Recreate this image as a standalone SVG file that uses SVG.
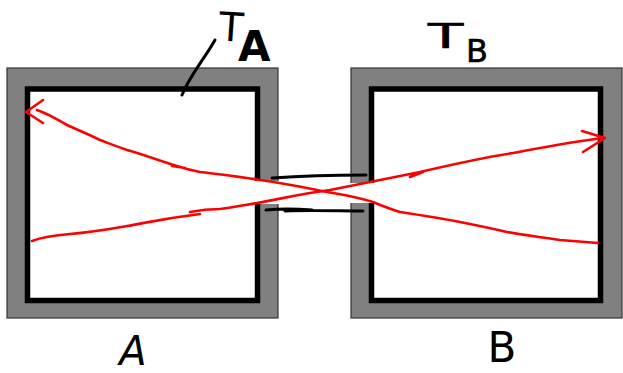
<svg xmlns="http://www.w3.org/2000/svg" width="623" height="373" viewBox="0 0 623 373">
<style>
.wall{fill:#808080;stroke:#333;stroke-width:1.2}
.inner{fill:#fff;stroke:#000;stroke-width:5.5}
.gap{fill:#fff;stroke:none}
.pen{fill:none;stroke:#000;stroke-width:3;stroke-linecap:round;stroke-linejoin:round}
.red{fill:none;stroke:#ff0000;stroke-width:2.6;stroke-linecap:round;stroke-linejoin:round}
.hand{font-family:"DejaVu Sans","Liberation Sans",sans-serif;fill:#000}
</style>
<rect width="623" height="373" fill="#fff"/>
<g id="boxA">
<rect class="wall" x="7" y="68" width="271" height="250"/>
<rect class="inner" x="27.5" y="89" width="230" height="211.5"/>
<rect class="gap" x="254" y="181" width="26" height="23"/>
</g>
<g id="boxB">
<rect class="wall" x="351" y="68" width="271" height="250"/>
<rect class="inner" x="371.5" y="89" width="229" height="211.5"/>
<rect class="gap" x="349" y="183" width="26" height="20"/>
</g>
<g id="labelTA">
<text class="hand" x="219" y="41" font-size="40" transform="rotate(4 230 25)">T</text>
<text class="hand" x="238" y="61" font-size="42" font-weight="bold">A</text>
<path class="pen" d="M215,40 C205,58 190,75 182,95"/>
</g>
<g id="labelTB">
<text class="hand" x="0" y="0" font-size="34" stroke="#000" stroke-width="0.6" transform="translate(428 48) scale(1.7 1)">T</text>
<text class="hand" x="466" y="62" font-size="32" stroke="#000" stroke-width="0.6">B</text>
</g>
<g id="labelA"><text class="hand" x="133" y="365" font-size="40" text-anchor="middle" font-style="italic">A</text></g>
<g id="labelB"><text class="hand" x="502" y="362" font-size="42" text-anchor="middle">B</text></g>
<g id="connectors">
<path class="pen" d="M272,178 C300,176 335,175 366,175"/>
<path class="pen" d="M266,210 C285,208 300,209 312,210 M285,211 C310,210 340,211 363,211"/>
<path class="red" d="M32,241 C45,236 57,235 70,234 C95,232 110,229 127,226 C145,223 160,219 200,214 M190,212 C200,210 210,209 220,209 C235,207 245,205 257,203 C285,198 300,194 330,190 C345,187 360,184 370,182 C390,178 405,175 420,172 C450,165 480,158 513,153 C545,147 570,142 603,138 M582,131 L605,138 L583,152 M410,177 L423,172"/>
<path class="red" d="M598,243 C585,242 572,241 560,240 C540,237 522,235 507,232 C490,228 475,225 460,222 C440,218 420,215 400,212 C390,209 380,205 373,202 C360,198 345,195 333,193 C310,189 290,184 260,180 C240,177 220,174 200,172 C190,170 183,168 177,166 C160,161 145,155 127,150 C115,146 108,143 100,140 C90,135 78,130 67,125 C58,120 50,115 42,112 L37,110 M43,100 L26,112 L43,123 M172,166 L185,168"/>
</g>
</svg>
